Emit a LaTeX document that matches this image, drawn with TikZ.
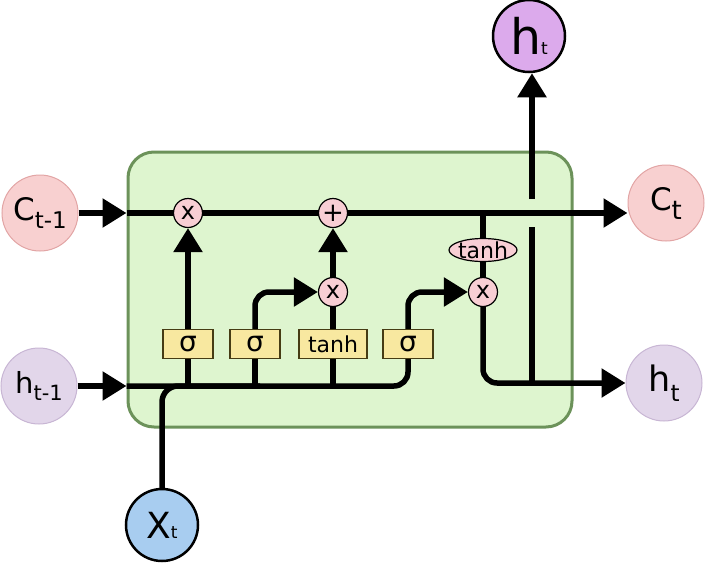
\documentclass[tikz,border=0pt]{standalone}
\usepackage{fontspec}
\setmainfont{DejaVu Sans}
\usetikzlibrary{arrows.meta,shapes.geometric}
\definecolor{cellfill}{RGB}{222,245,207}
\definecolor{celldraw}{RGB}{108,146,90}
\definecolor{gatefill}{RGB}{248,232,160}
\definecolor{gatedraw}{RGB}{70,60,20}
\definecolor{opfill}{RGB}{248,206,212}
\definecolor{cfill}{RGB}{248,208,208}
\definecolor{cdraw}{RGB}{226,165,165}
\definecolor{hfill}{RGB}{226,214,234}
\definecolor{hdraw}{RGB}{200,182,212}
\definecolor{xfill}{RGB}{168,205,240}
\definecolor{htopfill}{RGB}{220,170,236}
\newcommand{\fs}[1]{\fontsize{#1}{#1}\selectfont}
\tikzset{
  wire/.style={line width=5.5pt,black},
  arr/.style={wire,-{Triangle[length=24pt,width=28pt]}},
  gate/.style={draw=gatedraw,line width=1.2pt,fill=gatefill,minimum height=29pt,inner sep=0pt},
  op/.style={circle,draw=black,line width=1.2pt,fill=opfill,minimum size=29pt,inner sep=0pt},
  cstate/.style={circle,draw=cdraw,line width=1pt,fill=cfill,minimum size=76pt,inner sep=0pt},
  hstate/.style={circle,draw=hdraw,line width=1pt,fill=hfill,minimum size=76pt,inner sep=0pt},
}
\begin{document}
\begin{tikzpicture}[x=1pt,y=-1pt]
\useasboundingbox (0,0) rectangle (705,563);
% cell
\node[draw=celldraw,line width=3pt,fill=cellfill,rounded corners=26pt,minimum width=444pt,minimum height=275pt] (cell) at (350,289.5) {};
% external states
\node[cstate] (ct1) at (40,213) {\fs{31}C\raisebox{-8pt}{\fs{23}t-1}};
\node[hstate] (ht1) at (39,386) {\fs{29}h\raisebox{-7pt}{\fs{21}t-1}};
\node[cstate] (ct) at (666,203) {\fs{31}C\raisebox{-9pt}{\fs{26}t}};
\node[hstate] (hr) at (664,383) {\fs{35}h\raisebox{-10pt}{\fs{23}t}};
\node[circle,draw=black,line width=2.5pt,fill=xfill,minimum size=72pt,inner sep=0pt] (xt) at (162,525) {\fs{36}X\fs{17}t};
\node[circle,draw=black,line width=2.5pt,fill=htopfill,minimum size=72pt,inner sep=0pt] (htop) at (529,36) {\fs{49}h\fs{17}t};
% operators
\node[op] (mf) at (188,213) {\fs{24}x};
\node[op] (ma) at (333,213) {\fs{26}+};
\node[op] (mi) at (333,292) {\fs{24}x};
\node[op] (mo) at (483,292) {\fs{24}x};
\node[ellipse,draw=black,line width=1.2pt,fill=opfill,minimum width=68pt,minimum height=23pt,inner sep=0pt] (te) at (483,250) {};
\node[inner sep=0pt] (tetext) at (te) {\fs{22}tanh};
% gates
\node[gate,minimum width=50pt] (s1) at (188,344) {\fs{28}σ};
\node[gate,minimum width=50pt] (s2) at (255,344) {\fs{28}σ};
\node[gate,minimum width=68pt] (tb) at (333,344) {\fs{22}tanh};
\node[gate,minimum width=50pt] (s3) at (408,344) {\fs{28}σ};
% coordinates
\coordinate (hl) at (cell.west |- ht1);
\coordinate (xj) at (260,386);
\coordinate (vj) at (532,383);
\coordinate (gb) at (532,227);
\coordinate (gt) at (532,199);
% cell state line
\draw[arr] (ct1) -- (ct1 -| cell.west);
\draw[wire] (ct1 -| cell.west) -- (mf);
\draw[wire] (mf) -- (ma);
\draw[arr] (ma) -- (ct.west |- ma);
% hidden input line
\draw[arr] (ht1) -- (hl);
\draw[wire,rounded corners=14pt] (hl) -| (s3.south);
\draw[wire,rounded corners=16pt] (xt) |- (xj);
% gates
\draw[wire] (s1.south |- hl) -- (s1.south);
\draw[arr] (s1) -- (mf);
\draw[wire] (s2.south |- hl) -- (s2.south);
\draw[arr,rounded corners=14pt] (s2.north) |- (mi);
\draw[wire] (tb.south |- hl) -- (tb.south);
\draw[wire] (tb) -- (mi);
\draw[arr] (mi) -- (ma);
\draw[arr,rounded corners=14pt] (s3.north) |- (mo);
% output
\draw[wire] (te |- ma) -- (te);
\draw[wire] (te) -- (mo);
\draw[arr,rounded corners=14pt] (mo) |- (hr);
\draw[wire] (vj) -- (gb);
\draw[arr] (gt) -- (gt |- htop.south);
\end{tikzpicture}
\end{document}
